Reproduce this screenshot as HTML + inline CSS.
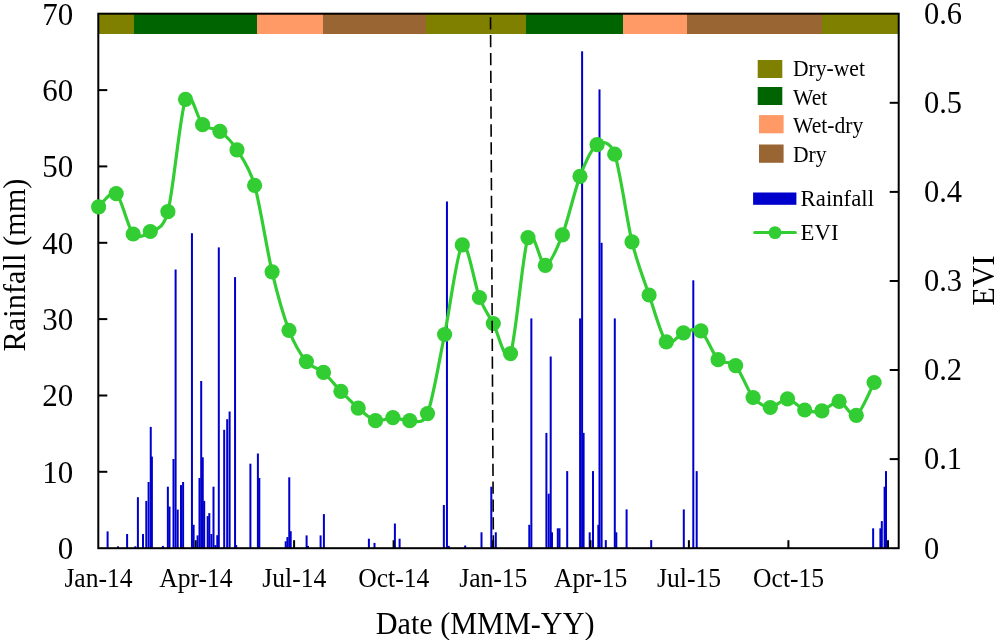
<!DOCTYPE html>
<html><head><meta charset="utf-8"><title>Rainfall and EVI</title>
<style>html,body{margin:0;padding:0;background:#fff}svg{display:block}text{font-family:"Liberation Serif","Times New Roman",serif;fill:#000}</style></head><body>
<svg width="995" height="640" viewBox="0 0 995 640">
<rect width="995" height="640" fill="#fff"/>
<g shape-rendering="crispEdges">
<rect x="98.3" y="14" width="36.1" height="19.7" fill="#808000"/>
<rect x="134.1" y="14" width="123.5" height="19.7" fill="#006400"/>
<rect x="257.3" y="14" width="66.2" height="19.7" fill="#FF9966"/>
<rect x="323.2" y="14" width="103.3" height="19.7" fill="#996633"/>
<rect x="426.2" y="14" width="100.4" height="19.7" fill="#808000"/>
<rect x="526.3" y="14" width="97.1" height="19.7" fill="#006400"/>
<rect x="623.1" y="14" width="63.7" height="19.7" fill="#FF9966"/>
<rect x="686.5" y="14" width="135.9" height="19.7" fill="#996633"/>
<rect x="822.1" y="14" width="76.9" height="19.7" fill="#808000"/>
</g>
<g fill="#0000CD">
<rect x="106.60" y="531.4" width="2.00" height="16.8"/>
<rect x="117.00" y="546.3" width="2.00" height="1.9"/>
<rect x="126.10" y="534.0" width="2.00" height="14.2"/>
<rect x="134.30" y="546.3" width="2.00" height="1.9"/>
<rect x="136.90" y="497.2" width="2.00" height="51.0"/>
<rect x="142.00" y="534.0" width="2.00" height="14.2"/>
<rect x="145.30" y="500.9" width="2.00" height="47.3"/>
<rect x="147.60" y="482.0" width="2.00" height="66.2"/>
<rect x="149.75" y="426.9" width="2.00" height="121.3"/>
<rect x="150.90" y="456.6" width="2.00" height="91.6"/>
<rect x="161.90" y="545.9" width="2.00" height="2.3"/>
<rect x="166.85" y="486.7" width="2.00" height="61.5"/>
<rect x="168.50" y="506.6" width="2.00" height="41.6"/>
<rect x="172.50" y="459.0" width="2.00" height="89.2"/>
<rect x="174.60" y="269.5" width="2.00" height="278.7"/>
<rect x="176.70" y="509.6" width="2.00" height="38.6"/>
<rect x="180.00" y="485.1" width="2.00" height="63.1"/>
<rect x="182.10" y="482.0" width="2.00" height="66.2"/>
<rect x="190.95" y="233.2" width="2.00" height="315.0"/>
<rect x="192.60" y="524.8" width="2.00" height="23.4"/>
<rect x="196.60" y="535.4" width="2.00" height="12.8"/>
<rect x="198.50" y="478.0" width="2.00" height="70.2"/>
<rect x="200.20" y="381.0" width="2.00" height="167.2"/>
<rect x="201.75" y="457.3" width="2.00" height="90.9"/>
<rect x="203.20" y="500.9" width="2.00" height="47.3"/>
<rect x="206.70" y="516.1" width="2.00" height="32.1"/>
<rect x="208.30" y="513.1" width="2.00" height="35.1"/>
<rect x="210.40" y="534.0" width="2.00" height="14.2"/>
<rect x="212.50" y="486.7" width="2.00" height="61.5"/>
<rect x="214.40" y="545.1" width="2.00" height="3.1"/>
<rect x="216.30" y="535.2" width="2.00" height="13.0"/>
<rect x="217.80" y="247.4" width="2.00" height="300.8"/>
<rect x="223.20" y="429.8" width="2.00" height="118.4"/>
<rect x="226.20" y="419.2" width="2.00" height="129.0"/>
<rect x="228.60" y="411.5" width="2.00" height="136.7"/>
<rect x="234.05" y="277.1" width="2.00" height="271.1"/>
<rect x="235.20" y="545.1" width="2.00" height="3.1"/>
<rect x="249.40" y="463.7" width="2.00" height="84.5"/>
<rect x="256.90" y="453.5" width="2.00" height="94.7"/>
<rect x="258.30" y="478.0" width="2.00" height="70.2"/>
<rect x="284.70" y="541.3" width="2.00" height="6.9"/>
<rect x="286.40" y="537.1" width="2.00" height="11.1"/>
<rect x="288.25" y="477.3" width="2.00" height="70.9"/>
<rect x="289.70" y="531.2" width="2.00" height="17.0"/>
<rect x="305.60" y="535.4" width="2.00" height="12.8"/>
<rect x="307.00" y="545.9" width="2.00" height="2.3"/>
<rect x="319.60" y="535.4" width="2.00" height="12.8"/>
<rect x="322.90" y="514.1" width="2.00" height="34.1"/>
<rect x="367.90" y="538.7" width="2.00" height="9.5"/>
<rect x="373.50" y="542.9" width="2.00" height="5.3"/>
<rect x="393.90" y="523.5" width="2.00" height="24.7"/>
<rect x="398.60" y="538.7" width="2.00" height="9.5"/>
<rect x="442.85" y="505.0" width="2.00" height="43.2"/>
<rect x="445.95" y="201.5" width="2.00" height="346.7"/>
<rect x="447.80" y="545.9" width="2.00" height="2.3"/>
<rect x="464.20" y="545.5" width="2.00" height="2.7"/>
<rect x="480.50" y="532.3" width="2.00" height="15.9"/>
<rect x="490.30" y="486.7" width="2.00" height="61.5"/>
<rect x="494.80" y="532.3" width="2.00" height="15.9"/>
<rect x="528.30" y="524.8" width="2.00" height="23.4"/>
<rect x="530.35" y="318.4" width="2.00" height="229.8"/>
<rect x="545.40" y="432.9" width="2.00" height="115.3"/>
<rect x="547.70" y="493.7" width="2.00" height="54.5"/>
<rect x="549.70" y="356.5" width="2.00" height="191.7"/>
<rect x="551.00" y="532.3" width="2.00" height="15.9"/>
<rect x="556.80" y="528.3" width="2.00" height="19.9"/>
<rect x="558.50" y="528.3" width="2.00" height="19.9"/>
<rect x="566.20" y="471.1" width="2.00" height="77.1"/>
<rect x="579.10" y="318.4" width="2.00" height="229.8"/>
<rect x="581.10" y="51.3" width="2.00" height="496.9"/>
<rect x="582.60" y="432.9" width="2.00" height="115.3"/>
<rect x="588.70" y="532.3" width="2.00" height="15.9"/>
<rect x="592.00" y="471.1" width="2.00" height="77.1"/>
<rect x="597.35" y="524.8" width="2.00" height="23.4"/>
<rect x="598.50" y="89.4" width="2.00" height="458.8"/>
<rect x="600.60" y="242.8" width="2.00" height="305.4"/>
<rect x="604.80" y="540.1" width="2.00" height="8.1"/>
<rect x="613.80" y="318.4" width="2.00" height="229.8"/>
<rect x="615.30" y="532.3" width="2.00" height="15.9"/>
<rect x="625.60" y="509.4" width="2.00" height="38.8"/>
<rect x="650.20" y="540.1" width="2.00" height="8.1"/>
<rect x="682.80" y="509.4" width="2.00" height="38.8"/>
<rect x="692.30" y="280.3" width="2.00" height="267.9"/>
<rect x="695.70" y="471.1" width="2.00" height="77.1"/>
<rect x="872.15" y="528.3" width="2.00" height="19.9"/>
<rect x="879.40" y="528.3" width="2.00" height="19.9"/>
<rect x="880.80" y="521.1" width="2.00" height="27.1"/>
<rect x="883.60" y="486.7" width="2.00" height="61.5"/>
<rect x="885.00" y="471.1" width="2.00" height="77.1"/>
</g>
<rect x="98.3" y="13.7" width="800.4" height="534.5" fill="none" stroke="#000" stroke-width="2"/>
<g stroke="#000" stroke-width="2">
<line x1="98.3" y1="471.8" x2="107.3" y2="471.8"/>
<line x1="98.3" y1="395.5" x2="107.3" y2="395.5"/>
<line x1="98.3" y1="319.1" x2="107.3" y2="319.1"/>
<line x1="98.3" y1="242.8" x2="107.3" y2="242.8"/>
<line x1="98.3" y1="166.4" x2="107.3" y2="166.4"/>
<line x1="98.3" y1="90.1" x2="107.3" y2="90.1"/>
<line x1="898.7" y1="459.1" x2="889.7" y2="459.1"/>
<line x1="898.7" y1="370.0" x2="889.7" y2="370.0"/>
<line x1="898.7" y1="281.0" x2="889.7" y2="281.0"/>
<line x1="898.7" y1="191.9" x2="889.7" y2="191.9"/>
<line x1="898.7" y1="102.8" x2="889.7" y2="102.8"/>
<line x1="888.0" y1="548.2" x2="888.0" y2="540.2"/>
<line x1="195.7" y1="548.2" x2="195.7" y2="540.2"/>
<line x1="294.1" y1="548.2" x2="294.1" y2="540.2"/>
<line x1="393.6" y1="548.2" x2="393.6" y2="540.2"/>
<line x1="493.1" y1="548.2" x2="493.1" y2="540.2"/>
<line x1="590.5" y1="548.2" x2="590.5" y2="540.2"/>
<line x1="688.9" y1="548.2" x2="688.9" y2="540.2"/>
<line x1="788.4" y1="548.2" x2="788.4" y2="540.2"/>
</g>
<path d="M98.6 206.8 C101.2 204.9 111.1 189.6 116.2 193.6 C121.3 197.6 128.2 228.4 133.2 234.0 C138.2 239.6 145.2 234.8 150.3 231.5 C155.4 228.2 162.7 231.1 167.9 211.7 C173.1 192.3 180.4 112.1 185.5 99.3 C190.6 86.5 197.6 120.0 202.6 124.7 C207.6 129.4 214.9 127.6 219.9 131.3 C224.9 135.0 231.9 141.9 237.0 149.8 C242.1 157.7 249.5 167.4 254.6 185.3 C259.7 203.2 267.1 250.5 272.1 271.8 C277.1 293.1 284.0 317.1 289.0 330.3 C294.0 343.5 301.3 355.4 306.4 361.6 C311.5 367.8 318.4 368.0 323.5 372.4 C328.6 376.8 335.8 386.1 340.9 391.3 C346.0 396.5 353.1 403.8 358.2 408.1 C363.3 412.4 370.4 419.3 375.5 420.7 C380.6 422.1 387.9 417.6 392.9 417.6 C397.9 417.6 404.6 421.3 409.7 420.7 C414.8 420.1 422.4 426.2 427.5 413.6 C432.6 401.0 439.5 359.2 444.6 334.5 C449.7 309.8 457.2 250.3 462.3 244.9 C467.4 239.5 474.9 286.0 479.4 297.5 C483.9 309.0 488.7 315.3 493.3 323.5 C497.9 331.7 505.4 366.2 510.5 353.6 C515.6 341.0 522.9 250.6 528.0 237.6 C533.1 224.6 540.3 265.7 545.3 265.3 C550.3 264.9 557.3 248.0 562.4 234.9 C567.5 221.8 574.9 189.5 580.0 176.3 C585.1 163.1 592.0 147.9 597.1 144.7 C602.2 141.5 609.6 140.0 614.7 154.2 C619.8 168.4 627.0 221.1 632.0 241.8 C637.0 262.5 644.1 280.3 649.1 295.0 C654.1 309.7 661.3 336.4 666.3 341.9 C671.3 347.4 678.3 334.4 683.4 332.8 C688.5 331.2 695.8 327.0 700.9 330.9 C706.0 334.8 713.0 354.6 718.1 359.7 C723.2 364.8 730.5 360.1 735.6 365.6 C740.7 371.1 748.0 391.4 753.1 397.5 C758.2 403.6 765.3 407.3 770.3 407.5 C775.3 407.7 782.5 398.4 787.5 398.8 C792.5 399.2 799.7 408.2 804.7 410.0 C809.7 411.8 816.9 412.2 821.9 410.9 C826.9 409.6 834.1 400.7 839.1 401.3 C844.1 401.9 851.2 418.1 856.3 415.3 C861.4 412.5 871.5 387.3 874.1 382.5" fill="none" stroke="#32CD32" stroke-width="3.2" stroke-linejoin="round" stroke-linecap="round"/>
<g fill="#32CD32">
<circle cx="98.6" cy="206.8" r="7.6"/>
<circle cx="116.2" cy="193.6" r="7.6"/>
<circle cx="133.2" cy="234.0" r="7.6"/>
<circle cx="150.3" cy="231.5" r="7.6"/>
<circle cx="167.9" cy="211.7" r="7.6"/>
<circle cx="185.5" cy="99.3" r="7.6"/>
<circle cx="202.6" cy="124.7" r="7.6"/>
<circle cx="219.9" cy="131.3" r="7.6"/>
<circle cx="237.0" cy="149.8" r="7.6"/>
<circle cx="254.6" cy="185.3" r="7.6"/>
<circle cx="272.1" cy="271.8" r="7.6"/>
<circle cx="289.0" cy="330.3" r="7.6"/>
<circle cx="306.4" cy="361.6" r="7.6"/>
<circle cx="323.5" cy="372.4" r="7.6"/>
<circle cx="340.9" cy="391.3" r="7.6"/>
<circle cx="358.2" cy="408.1" r="7.6"/>
<circle cx="375.5" cy="420.7" r="7.6"/>
<circle cx="392.9" cy="417.6" r="7.6"/>
<circle cx="409.7" cy="420.7" r="7.6"/>
<circle cx="427.5" cy="413.6" r="7.6"/>
<circle cx="444.6" cy="334.5" r="7.6"/>
<circle cx="462.3" cy="244.9" r="7.6"/>
<circle cx="479.4" cy="297.5" r="7.6"/>
<circle cx="493.3" cy="323.5" r="7.6"/>
<circle cx="510.5" cy="353.6" r="7.6"/>
<circle cx="528.0" cy="237.6" r="7.6"/>
<circle cx="545.3" cy="265.3" r="7.6"/>
<circle cx="562.4" cy="234.9" r="7.6"/>
<circle cx="580.0" cy="176.3" r="7.6"/>
<circle cx="597.1" cy="144.7" r="7.6"/>
<circle cx="614.7" cy="154.2" r="7.6"/>
<circle cx="632.0" cy="241.8" r="7.6"/>
<circle cx="649.1" cy="295.0" r="7.6"/>
<circle cx="666.3" cy="341.9" r="7.6"/>
<circle cx="683.4" cy="332.8" r="7.6"/>
<circle cx="700.9" cy="330.9" r="7.6"/>
<circle cx="718.1" cy="359.7" r="7.6"/>
<circle cx="735.6" cy="365.6" r="7.6"/>
<circle cx="753.1" cy="397.5" r="7.6"/>
<circle cx="770.3" cy="407.5" r="7.6"/>
<circle cx="787.5" cy="398.8" r="7.6"/>
<circle cx="804.7" cy="410.0" r="7.6"/>
<circle cx="821.9" cy="410.9" r="7.6"/>
<circle cx="839.1" cy="401.3" r="7.6"/>
<circle cx="856.3" cy="415.3" r="7.6"/>
<circle cx="874.1" cy="382.5" r="7.6"/>
</g>
<line x1="490.5" y1="17.2" x2="493.4" y2="548" stroke="#000" stroke-width="1.6" stroke-dasharray="12.3,5.56"/>
<text transform="translate(73.3,559.0) scale(1,1.045)" font-size="31" text-anchor="end">0</text>
<text transform="translate(73.3,482.6) scale(1,1.045)" font-size="31" text-anchor="end">10</text>
<text transform="translate(73.3,406.3) scale(1,1.045)" font-size="31" text-anchor="end">20</text>
<text transform="translate(73.3,329.9) scale(1,1.045)" font-size="31" text-anchor="end">30</text>
<text transform="translate(73.3,253.6) scale(1,1.045)" font-size="31" text-anchor="end">40</text>
<text transform="translate(73.3,177.2) scale(1,1.045)" font-size="31" text-anchor="end">50</text>
<text transform="translate(73.3,100.9) scale(1,1.045)" font-size="31" text-anchor="end">60</text>
<text transform="translate(73.3,24.5) scale(1,1.045)" font-size="31" text-anchor="end">70</text>
<text transform="translate(924.0,558.5) scale(1,1.045)" font-size="30.5" text-anchor="start">0</text>
<text transform="translate(924.0,469.4) scale(1,1.045)" font-size="30.5" text-anchor="start">0.1</text>
<text transform="translate(924.0,380.3) scale(1,1.045)" font-size="30.5" text-anchor="start">0.2</text>
<text transform="translate(924.0,291.3) scale(1,1.045)" font-size="30.5" text-anchor="start">0.3</text>
<text transform="translate(924.0,202.2) scale(1,1.045)" font-size="30.5" text-anchor="start">0.4</text>
<text transform="translate(924.0,113.1) scale(1,1.045)" font-size="30.5" text-anchor="start">0.5</text>
<text transform="translate(924.0,24.0) scale(1,1.045)" font-size="30.5" text-anchor="start">0.6</text>
<text transform="translate(98.5,587.0) scale(1,1.045)" font-size="25.6" text-anchor="middle">Jan-14</text>
<text transform="translate(195.9,587.0) scale(1,1.045)" font-size="25.6" text-anchor="middle">Apr-14</text>
<text transform="translate(294.3,587.0) scale(1,1.045)" font-size="25.6" text-anchor="middle">Jul-14</text>
<text transform="translate(393.8,587.0) scale(1,1.045)" font-size="25.6" text-anchor="middle">Oct-14</text>
<text transform="translate(493.3,587.0) scale(1,1.045)" font-size="25.6" text-anchor="middle">Jan-15</text>
<text transform="translate(590.7,587.0) scale(1,1.045)" font-size="25.6" text-anchor="middle">Apr-15</text>
<text transform="translate(689.1,587.0) scale(1,1.045)" font-size="25.6" text-anchor="middle">Jul-15</text>
<text transform="translate(788.6,587.0) scale(1,1.045)" font-size="25.6" text-anchor="middle">Oct-15</text>
<text transform="translate(485.1,633.8) scale(1,1.045)" font-size="30.2" text-anchor="middle">Date (MMM-YY)</text>
<text transform="translate(24.5,265.0) rotate(-90) scale(1,1.045)" font-size="30.4" text-anchor="middle">Rainfall (mm)</text>
<text transform="translate(993.6,280.6) rotate(-90) scale(1,1.045)" font-size="30" text-anchor="middle">EVI</text>
<g>
<rect x="757.7" y="60" width="24.6" height="18" fill="#808000"/>
<rect x="757.7" y="87" width="24.6" height="18" fill="#006400"/>
<rect x="759" y="115.1" width="24.6" height="18.2" fill="#FF9966"/>
<rect x="759" y="144.5" width="24.6" height="18.3" fill="#996633"/>
<rect x="753.1" y="192.5" width="43.3" height="12.3" fill="#0000CD"/>
</g>
<line x1="754.7" y1="232.6" x2="795.4" y2="232.6" stroke="#32CD32" stroke-width="3" stroke-linecap="round"/>
<circle cx="775" cy="232.6" r="6.4" fill="#32CD32"/>
<text transform="translate(793.0,75.9) scale(1,1.045)" font-size="21.6" text-anchor="start">Dry-wet</text>
<text transform="translate(793.0,104.9) scale(1,1.045)" font-size="21.6" text-anchor="start">Wet</text>
<text transform="translate(793.0,133.0) scale(1,1.045)" font-size="21.6" text-anchor="start">Wet-dry</text>
<text transform="translate(793.0,162.4) scale(1,1.045)" font-size="21.6" text-anchor="start">Dry</text>
<text transform="translate(800.6,205.9) scale(1,1.045)" font-size="22.8" text-anchor="start">Rainfall</text>
<text transform="translate(800.6,240.1) scale(1,1.045)" font-size="22.8" text-anchor="start">EVI</text>
</svg></body></html>
